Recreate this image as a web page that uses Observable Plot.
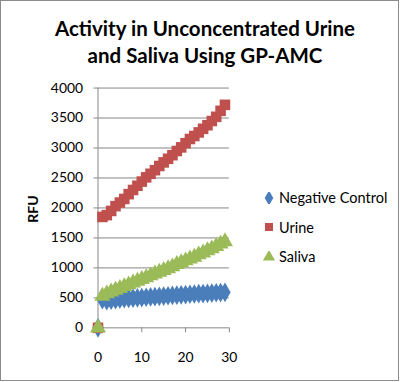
<!DOCTYPE html>
<html><head><meta charset="utf-8">
<script src="https://cdn.jsdelivr.net/npm/d3@7"></script>
<script src="https://cdn.jsdelivr.net/npm/@observablehq/plot@0.6"></script>
<style>
body{margin:0;background:#fff;}
#wrap{position:relative;width:399px;height:381px;box-sizing:border-box;border:1px solid #8c8c8c;overflow:hidden;font-family:Lato,"Open Sans",sans-serif;}
#title{position:absolute;left:0;top:14px;width:408px;text-align:center;font-weight:bold;font-size:20.5px;line-height:27px;color:#000;}
#legend{position:absolute;left:262px;top:182px;font-size:14.5px;color:#000;}
#legend div{height:29.5px;display:flex;align-items:center;}
#legend svg{margin-right:4px;}
#rfu{position:absolute;left:31px;top:208px;transform:translate(-50%,-50%) rotate(-90deg);font-weight:bold;font-size:14px;}
#chart{position:absolute;left:-1px;top:-1px;}
</style></head>
<body>
<div id="wrap">
<div id="title">Activity in Unconcentrated Urine<br>and Saliva Using GP-AMC</div>
<div id="chart"></div>
<div id="rfu">RFU</div>
<div id="legend"></div>
</div>
<script>
const times = [0,1,2,3,4,5,6,7,8,9,10,11,12,13,14,15,16,17,18,19,20,21,22,23,24,25,26,27,28,29];
const negativeControl = [0,470,455,460,470,480,485,490,495,500,505,510,515,520,525,530,535,540,545,550,555,560,565,570,572,575,580,585,588,592];
const urine = [0,1850,1880,1950,2030,2090,2150,2230,2300,2370,2440,2510,2570,2630,2700,2760,2820,2880,2950,3010,3080,3150,3200,3260,3320,3380,3450,3520,3620,3720];
const saliva = [0,530,570,600,630,660,690,720,750,780,810,840,870,900,930,960,990,1020,1060,1090,1120,1150,1180,1220,1250,1290,1320,1360,1400,1440];
const seriesNames = ["Negative Control","Urine","Saliva"];
const seriesColors = ["#4a7ebb","#c0504d","#9bbb59"];
const seriesSymbols = ["diamond","square","triangle"];
const yTicks = [0,500,1000,1500,2000,2500,3000,3500,4000];
const xTicks = [0,10,20,30];

const allSeries = [negativeControl, urine, saliva];
const data = [];
allSeries.forEach((vals,i)=>vals.forEach((v,j)=>data.push({t:times[j],v,s:seriesNames[i]})));

const chart = Plot.plot({
  width:400, height:382,
  marginLeft:98, marginRight:170, marginTop:88, marginBottom:53,
  style:{fontFamily:"Lato, 'Open Sans', sans-serif", fontSize:"14px", color:"#000", background:"transparent"},
  x:{domain:[0,30], ticks:xTicks, label:null},
  y:{domain:[0,4000], ticks:yTicks, label:null},
  color:{domain:seriesNames, range:seriesColors},
  symbol:{domain:seriesNames, range:seriesSymbols},
  marks:[
    Plot.gridY(yTicks,{stroke:"#868686", strokeOpacity:1}),
    Plot.ruleX([0],{stroke:"#868686"}),
    Plot.axisY({ticks:yTicks, tickSize:4, tickPadding:11, stroke:"#868686", fontSize:14, tickFormat:d3.format("d")}),
    Plot.axisX({ticks:xTicks, tickSize:5, tickPadding:19, stroke:"#868686", fontSize:14, tickFormat:d3.format("d")}),
    Plot.dot(data,{x:"t", y:"v", fill:"s", symbol:"s", r:6, stroke:"none"})
  ]
});
document.getElementById("chart").appendChild(chart);

const legend = document.getElementById("legend");
seriesNames.forEach((n,i)=>{
  const row = document.createElement("div");
  const sym = d3.symbol().type([d3.symbolDiamond,d3.symbolSquare,d3.symbolTriangle][i]).size(64)();
  row.innerHTML = `<svg width="12" height="12" viewBox="-6 -6 12 12"><path d="${sym}" fill="${seriesColors[i]}"/></svg><span>${n}</span>`;
  legend.appendChild(row);
});
</script>
</body></html>
